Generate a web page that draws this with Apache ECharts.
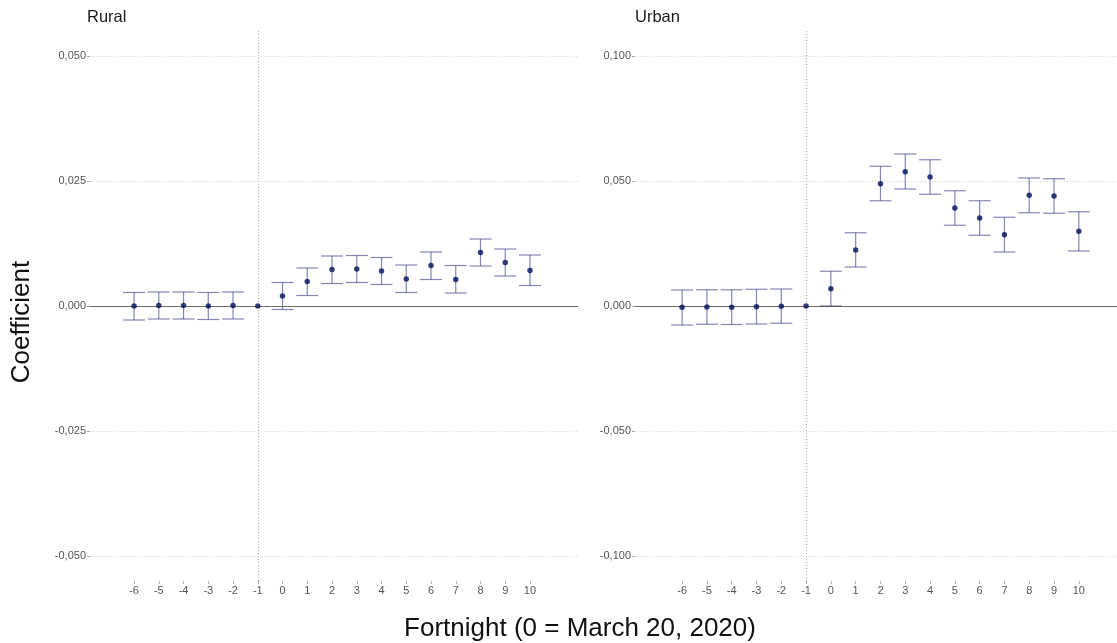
<!DOCTYPE html>
<html>
<head>
<meta charset="utf-8">
<script src="https://cdn.jsdelivr.net/npm/echarts@6/dist/echarts.min.js"></script>
<style>
  html, body { margin: 0; padding: 0; background: #ffffff; }
  #chart { width: 1117px; height: 643px; }
</style>
</head>
<body>
<div id="chart"></div>
<script>
// Event-study coefficients by fortnight (0 = March 20, 2020), with 95% CI
const fortnights = [-6, -5, -4, -3, -2, -1, 0, 1, 2, 3, 4, 5, 6, 7, 8, 9, 10];

const ruralEst  = [0.0000, 0.0001, 0.0001, 0.0000, 0.0001, 0.0000, 0.0020, 0.0049, 0.0073, 0.0074, 0.0070, 0.0054, 0.0081, 0.0053, 0.0107, 0.0087, 0.0071];
const ruralLow  = [-0.0028, -0.0026, -0.0026, -0.0027, -0.0026, null, -0.0007, 0.0021, 0.0045, 0.0047, 0.0043, 0.0027, 0.0053, 0.0026, 0.0080, 0.0060, 0.0041];
const ruralHigh = [0.0027, 0.0028, 0.0028, 0.0027, 0.0028, null, 0.0047, 0.0076, 0.0100, 0.0101, 0.0097, 0.0082, 0.0108, 0.0081, 0.0134, 0.0114, 0.0102];

const urbanEst  = [-0.0005, -0.0004, -0.0005, -0.0003, -0.0001, 0.0000, 0.0069, 0.0224, 0.0489, 0.0537, 0.0516, 0.0392, 0.0352, 0.0285, 0.0443, 0.0440, 0.0299];
const urbanLow  = [-0.0076, -0.0073, -0.0074, -0.0072, -0.0069, null, 0.0000, 0.0156, 0.0421, 0.0468, 0.0447, 0.0323, 0.0283, 0.0216, 0.0373, 0.0371, 0.0220];
const urbanHigh = [0.0064, 0.0065, 0.0065, 0.0067, 0.0068, null, 0.0139, 0.0293, 0.0559, 0.0608, 0.0585, 0.0461, 0.0421, 0.0355, 0.0512, 0.0509, 0.0377];

const ruralTicks = [-0.05, -0.025, 0, 0.025, 0.05];
const urbanTicks = [-0.1, -0.05, 0, 0.05, 0.1];
const panelTitles = ['Rural', 'Urban'];

const FONT = '"Liberation Sans", Arial, Helvetica, sans-serif';
const POINT_COLOR = '#03105a';
const BAR_COLOR = 'rgba(50, 55, 130, 0.6)';
const CAP_HALF = 11;

const fmt = v => (Math.abs(v) < 1e-12 ? 0 : v).toFixed(3).replace('.', ',');

function xAxisFor(gridIndex, min, max) {
  return {
    type: 'value', gridIndex, min, max,
    axisLine: { show: false, onZero: false },
    splitLine: { show: false },
    axisTick: { show: true, length: 3, customValues: fortnights, lineStyle: { color: '#aaa', width: 1 } },
    axisLabel: { customValues: fortnights, color: '#555', fontSize: 11, fontFamily: FONT, margin: 4, formatter: v => String(v) }
  };
}

function yAxisFor(gridIndex, lim, ticks) {
  return {
    type: 'value', gridIndex, min: -lim, max: lim,
    axisLine: { show: false, onZero: false },
    splitLine: { show: false },
    axisTick: { show: true, length: 3, customValues: ticks, lineStyle: { color: '#aaa', width: 1 } },
    axisLabel: { customValues: ticks, color: '#555', fontSize: 11, fontFamily: FONT, margin: 4, formatter: fmt }
  };
}

function guideLines(ticks) {
  const grid = ticks.filter(t => t !== 0).map(t => ({
    yAxis: t, lineStyle: { type: [1, 2], color: '#d4d4d4', width: 1 }
  }));
  return grid.concat([
    { yAxis: 0, lineStyle: { type: 'solid', color: '#6b6b6b', width: 1 } },
    { xAxis: -1, lineStyle: { type: [1, 2], color: '#a8a8a8', width: 1 } }
  ]);
}

function errorBarSeries(idx, low, high) {
  const data = fortnights.map((f, i) => [f, low[i], high[i]]).filter(d => d[1] !== null);
  return {
    type: 'custom', xAxisIndex: idx, yAxisIndex: idx, silent: true, z: 3,
    data,
    encode: { x: 0, y: [1, 2] },
    renderItem(params, api) {
      const x = api.value(0);
      const lo = api.coord([x, api.value(1)]);
      const hi = api.coord([x, api.value(2)]);
      const style = { stroke: BAR_COLOR, lineWidth: 1.2 };
      return {
        type: 'group',
        children: [
          { type: 'line', shape: { x1: lo[0], y1: lo[1], x2: hi[0], y2: hi[1] }, style },
          { type: 'line', shape: { x1: hi[0] - CAP_HALF, y1: hi[1], x2: hi[0] + CAP_HALF, y2: hi[1] }, style },
          { type: 'line', shape: { x1: lo[0] - CAP_HALF, y1: lo[1], x2: lo[0] + CAP_HALF, y2: lo[1] }, style }
        ]
      };
    }
  };
}

function pointSeries(idx, est, ticks) {
  return {
    type: 'scatter', xAxisIndex: idx, yAxisIndex: idx, z: 4,
    symbol: 'circle', symbolSize: 5.5,
    itemStyle: { color: POINT_COLOR },
    data: fortnights.map((f, i) => [f, est[i]]),
    markLine: {
      silent: true, symbol: 'none', animation: false, z: 1, precision: 4,
      label: { show: false },
      data: guideLines(ticks)
    }
  };
}

const chart = echarts.init(document.getElementById('chart'), null, { renderer: 'canvas' });

chart.setOption({
  backgroundColor: '#ffffff',
  animation: false,
  grid: [
    { left: 90, top: 31, width: 488, height: 550 },
    { left: 635, top: 31, width: 482, height: 550 }
  ],
  xAxis: [xAxisFor(0, -7.78, 11.94), xAxisFor(1, -7.9, 11.54)],
  yAxis: [yAxisFor(0, 0.055, ruralTicks), yAxisFor(1, 0.11, urbanTicks)],
  series: [
    errorBarSeries(0, ruralLow, ruralHigh),
    pointSeries(0, ruralEst, ruralTicks),
    errorBarSeries(1, urbanLow, urbanHigh),
    pointSeries(1, urbanEst, urbanTicks)
  ],
  graphic: [
    { type: 'text', left: 87, top: 9, style: { text: panelTitles[0], fontSize: 16.5, fontFamily: FONT, fill: '#1a1a1a' } },
    { type: 'text', left: 635, top: 9, style: { text: panelTitles[1], fontSize: 16.5, fontFamily: FONT, fill: '#1a1a1a' } },
    { type: 'text', x: 22, y: 322, rotation: Math.PI / 2,
      style: { text: 'Coefficient', fontSize: 26, fontFamily: FONT, fill: '#111', align: 'center', verticalAlign: 'middle' } },
    { type: 'text', x: 580, y: 629,
      style: { text: 'Fortnight (0 = March 20, 2020)', fontSize: 26, fontFamily: FONT, fill: '#111', align: 'center', verticalAlign: 'middle' } }
  ]
});
</script>
</body>
</html>
